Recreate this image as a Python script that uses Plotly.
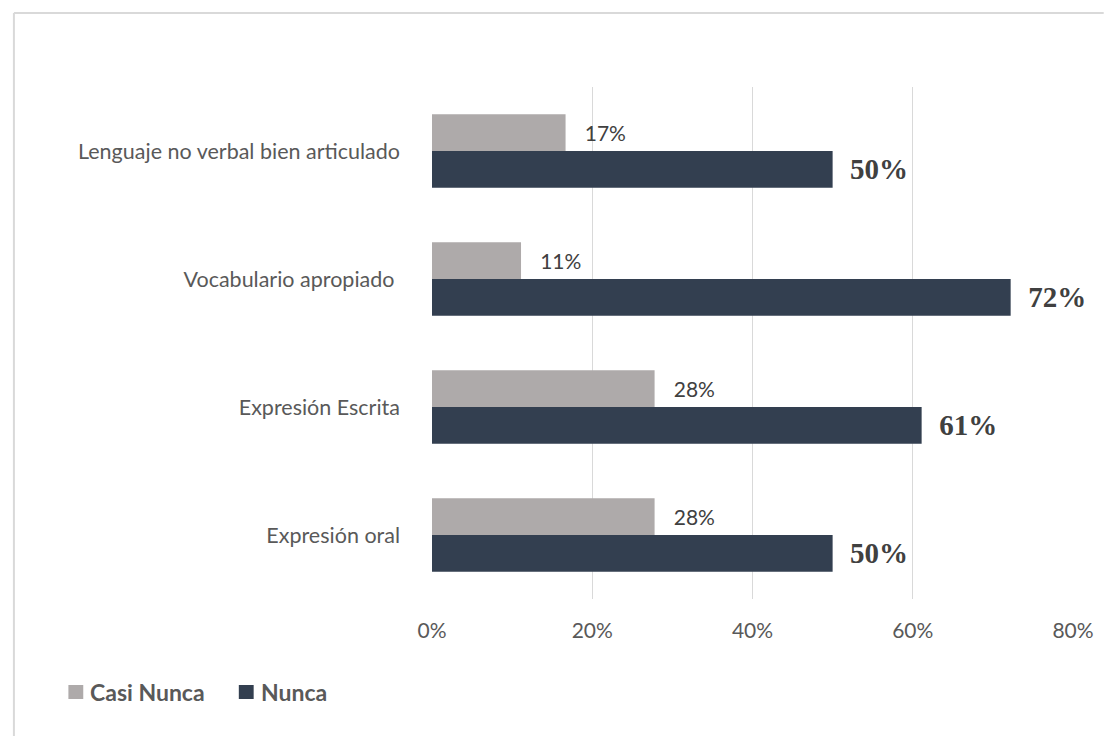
import plotly.graph_objects as go

categories = ["Expresión oral", "Expresión Escrita", "Vocabulario apropiado ", "Lenguaje no verbal bien articulado"]
casi_nunca = [27.78, 27.78, 11.11, 16.67]
nunca = [50.0, 61.11, 72.22, 50.0]
casi_labels = ["28%", "28%", "11%", "17%"]
nunca_labels = ["50%", "61%", "72%", "50%"]
tick_vals = [0, 20, 40, 60, 80]
tick_text = ["0%", "20%", "40%", "60%", "80%"]
series_names = ["Casi Nunca", "Nunca"]
series_colors = ["#AEAAAA", "#333F50"]

W, H = 1106, 736
L, R, T, B = 432, 27, 87, 137
pw, ph = W - L - R, H - T - B

def px_x(p):
    return (p - L) / pw

def px_y(p):
    return (H - B - p) / ph

fig = go.Figure()
fig.add_trace(go.Bar(
    y=categories, x=nunca, orientation="h", name=series_names[1],
    marker=dict(color=series_colors[1], line=dict(width=0)),
    text=nunca_labels, textposition="outside", cliponaxis=False,
    textfont=dict(family="Liberation Serif", size=29, color="#404040"),
    texttemplate="<b>  %{text}</b>", hoverinfo="skip", showlegend=False,
))
fig.add_trace(go.Bar(
    y=categories, x=casi_nunca, orientation="h", name=series_names[0],
    marker=dict(color=series_colors[0], line=dict(width=0)),
    text=casi_labels, textposition="outside", cliponaxis=False,
    textfont=dict(family="Lato", size=21, color="#404040"),
    texttemplate="   %{text}", hoverinfo="skip", showlegend=False,
))

shapes = [
    dict(type="line", xref="paper", yref="paper", x0=px_x(10), x1=px_x(1110),
         y0=px_y(13), y1=px_y(13), line=dict(color="#D9D9D9", width=2)),
    dict(type="line", xref="paper", yref="paper", x0=px_x(10), x1=px_x(10),
         y0=px_y(13), y1=px_y(740), line=dict(color="#D9D9D9", width=2)),
]
annotations = []
legend_x = [65, 237]
for name, color, lx in zip(series_names, series_colors, legend_x):
    shapes.append(dict(type="rect", xref="paper", yref="paper",
                       x0=px_x(lx), x1=px_x(lx + 15), y0=px_y(699), y1=px_y(685),
                       fillcolor=color, line=dict(width=0)))
    annotations.append(dict(xref="paper", yref="paper", x=px_x(lx + 20), y=px_y(692),
                            xanchor="left", yanchor="middle", showarrow=False,
                            text="<b>" + name + "</b>",
                            font=dict(family="Lato", size=23, color="#595959")))

fig.update_layout(
    width=W, height=H,
    margin=dict(l=L, r=R, t=T, b=B),
    paper_bgcolor="white", plot_bgcolor="white",
    barmode="group", bargap=0.427, bargroupgap=0,
    font=dict(family="Lato", color="#595959"),
    showlegend=False,
    xaxis=dict(range=[0, 80], tickvals=tick_vals, ticktext=tick_text,
               showgrid=True, gridcolor="#D9D9D9", gridwidth=1.3, zeroline=False,
               showline=False, ticks="", tickfont=dict(family="Lato", size=21, color="#595959"),
               ticklabelstandoff=17, fixedrange=True),
    yaxis=dict(showgrid=False, zeroline=False, showline=False, ticks="",
               tickfont=dict(family="Lato", size=21.5, color="#595959"),
               ticklabelstandoff=31, fixedrange=True),
    shapes=shapes,
    annotations=annotations,
)

fig.write_html("out.html")
